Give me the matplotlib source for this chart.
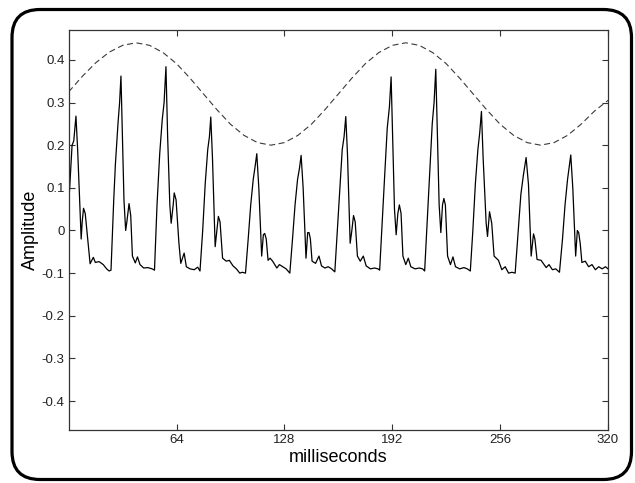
import matplotlib
matplotlib.use("Agg")
import matplotlib.pyplot as plt
from matplotlib.patches import FancyBboxPatch

# solid trace (ms, amplitude)
sig_t = [0.0, 1.0, 2.0, 3.0, 4.3, 5.3, 6.7, 7.4, 8.0, 8.8, 9.8, 11.3, 12.7, 14.6, 15.8, 18.0, 20.5, 22.5, 24.0,
         25.1, 26.7, 27.7, 29.3, 30.2, 31.0, 32.0, 32.8, 33.8, 34.5, 35.8, 36.8, 37.8, 39.5, 40.8, 42.3, 44.5, 47.0, 49.5, 50.9,
         52.4, 54.0, 55.5, 56.6, 57.7, 58.7, 60.0, 60.8, 62.0, 62.6, 63.7, 65.4, 66.5, 68.5, 69.8, 72.0, 74.5, 76.5, 77.9,
         79.5, 81.0, 82.5, 83.5, 84.3, 85.3, 86.9, 88.8, 89.8, 91.3, 93.5, 95.3, 97.5, 99.5, 101.5, 103.0, 104.9,
         106.5, 108.0, 109.5, 110.6, 111.6, 112.8, 114.5, 115.5, 116.3, 117.2, 118.3, 119.5, 121.0, 123.5, 125.0, 127.0, 129.0, 131.2,
         132.8, 134.3, 135.8, 136.9, 137.9, 139.1, 140.8, 141.8, 142.6, 143.4, 144.4, 146.5, 148.5, 150.0, 152.0, 154.0, 156.0, 157.9,
         159.4, 160.9, 162.3, 163.4, 164.4, 165.4, 167.0, 168.0, 169.0, 170.0, 171.3, 173.0, 174.8, 176.5, 179.0, 181.5, 183.5, 184.5,
         186.0, 187.5, 189.0, 190.3, 191.3, 192.3, 193.3, 194.3, 195.3, 196.2, 197.2, 198.3, 200.0, 201.5, 203.0, 205.5, 208.0, 210.0, 211.2,
         212.7, 214.2, 215.7, 216.8, 217.8, 218.8, 219.8, 220.8, 221.8, 222.6, 223.5, 224.8, 226.5, 228.0, 229.5, 232.0, 234.5, 236.5, 238.3,
         239.8, 241.3, 242.8, 243.9, 244.9, 245.9, 247.7, 248.5, 249.7, 251.0, 252.4, 255.0, 257.0, 259.0, 261.0, 263.0, 264.9,
         266.9, 268.3, 269.8, 271.4, 272.8, 274.4, 275.8, 276.6, 277.9, 280.3, 283.3, 285.0, 287.0, 289.0, 291.2,
         293.0, 294.5, 296.0, 297.0, 297.9, 299.1, 300.8, 301.8, 302.6, 303.5, 304.5, 306.5, 308.5, 310.5, 312.5, 314.5, 316.5, 318.5, 320.0]
sig_v = [0.06, 0.13, 0.20, 0.21, 0.268, 0.19, 0.05, -0.02, 0.02, 0.052, 0.04, -0.02, -0.078, -0.063, -0.075, -0.073, -0.08, -0.09, -0.095,
         -0.093, 0.07, 0.155, 0.254, 0.30, 0.362, 0.20, 0.07, 0.0, 0.02, 0.063, 0.035, -0.06, -0.076, -0.062, -0.08, -0.088, -0.087, -0.09, -0.093,
         0.06, 0.18, 0.26, 0.30, 0.384, 0.22, 0.06, 0.017, 0.06, 0.088, 0.072, -0.03, -0.077, -0.053, -0.085, -0.09, -0.092, -0.086, -0.095,
         0.0, 0.11, 0.19, 0.22, 0.266, 0.17, -0.038, 0.033, 0.02, -0.065, -0.072, -0.07, -0.083, -0.09, -0.1, -0.098, -0.1,
         -0.02, 0.06, 0.12, 0.15, 0.18, 0.10, -0.06, -0.01, -0.007, -0.02, -0.07, -0.065, -0.072, -0.088, -0.08, -0.085, -0.09, -0.1,
         -0.02, 0.06, 0.12, 0.145, 0.176, 0.10, -0.065, -0.005, -0.005, -0.02, -0.072, -0.077, -0.06, -0.083, -0.088, -0.085, -0.09, -0.097,
         0.0, 0.10, 0.19, 0.22, 0.267, 0.18, -0.03, 0.0, 0.035, 0.02, -0.06, -0.072, -0.06, -0.083, -0.09, -0.088, -0.09, -0.093,
         0.02, 0.13, 0.24, 0.29, 0.36, 0.20, 0.05, -0.01, 0.04, 0.06, 0.04, -0.06, -0.08, -0.065, -0.085, -0.09, -0.088, -0.09, -0.095,
         0.02, 0.14, 0.25, 0.30, 0.378, 0.22, 0.06, -0.005, 0.06, 0.075, 0.06, -0.06, -0.08, -0.062, -0.085, -0.09, -0.087, -0.09, -0.095,
         0.0, 0.11, 0.19, 0.23, 0.279, 0.17, 0.017, -0.014, 0.044, 0.017, -0.06, -0.07, -0.092, -0.085, -0.1, -0.098, -0.1,
         0.01, 0.085, 0.13, 0.171, 0.108, -0.06, -0.008, -0.02, -0.068, -0.07, -0.087, -0.08, -0.092, -0.09, -0.098,
         -0.02, 0.06, 0.12, 0.15, 0.177, 0.10, -0.06, 0.0, -0.005, -0.03, -0.075, -0.072, -0.085, -0.08, -0.092, -0.085, -0.09, -0.085, -0.09]

# dashed envelope, read every 8 ms
wave_t = [0, 8, 16, 24, 32, 40, 48, 56, 64, 72, 80, 88, 96, 104, 112, 120, 128, 136, 144, 152, 160,
          168, 176, 184, 192, 200, 208, 216, 224, 232, 240, 248, 256, 264, 272, 280, 288, 296, 304, 312, 320]
wave_v = [0.325, 0.361, 0.393, 0.418, 0.434, 0.440, 0.434, 0.417, 0.391, 0.357, 0.320, 0.283, 0.249, 0.223, 0.206, 0.200,
          0.206, 0.223, 0.249, 0.283, 0.320, 0.357, 0.391, 0.417, 0.434, 0.440, 0.434, 0.417, 0.391, 0.357, 0.320,
          0.283, 0.249, 0.223, 0.206, 0.200, 0.206, 0.223, 0.249, 0.280, 0.305]

xticks = [64, 128, 192, 256, 320]
yticks = [0.4, 0.3, 0.2, 0.1, 0, -0.1, -0.2, -0.3, -0.4]
ytick_labels = ["0.4", "0.3", "0.2", "0.1", "0", "-0.1", "-0.2", "-0.3", "-0.4"]

plt.rcParams['font.family'] = ['Liberation Sans', 'DejaVu Sans']

fig = plt.figure(figsize=(6.35, 4.83), dpi=100)
fig.patch.set_facecolor('white')

# rounded frame round the whole figure
frame = FancyBboxPatch((0.12, 0.035), 6.195, 4.70,
                       boxstyle="round,pad=0,rounding_size=0.28",
                       transform=fig.dpi_scale_trans, fill=False,
                       edgecolor='black', linewidth=2.3, clip_on=False)
fig.patches.append(frame)

ax = fig.add_axes([0.1082, 0.1104, 0.8493, 0.8275])
ax.plot(wave_t, wave_v, color='#3a3a3a', lw=0.8, linestyle=(0, (5.4, 3.2)))
ax.plot(sig_t, sig_v, color='black', lw=0.9)

ax.set_xlim(0, 320)
ax.set_ylim(-0.467, 0.47)
ax.set_xticks(xticks)
ax.set_xticklabels([str(x) for x in xticks])
ax.set_yticks(yticks)
ax.set_yticklabels(ytick_labels)
ax.tick_params(direction='in', top=True, right=True, length=4, width=0.8,
               labelsize=9.5, labelcolor='#222222', color='#333333', pad=3)
for s in ax.spines.values():
    s.set_color('#333333')
    s.set_linewidth(0.9)

ax.set_xlabel("milliseconds", fontsize=13, labelpad=2)
ax.set_ylabel("Amplitude", fontsize=13, labelpad=2)

fig.savefig('out.png', dpi=100)
